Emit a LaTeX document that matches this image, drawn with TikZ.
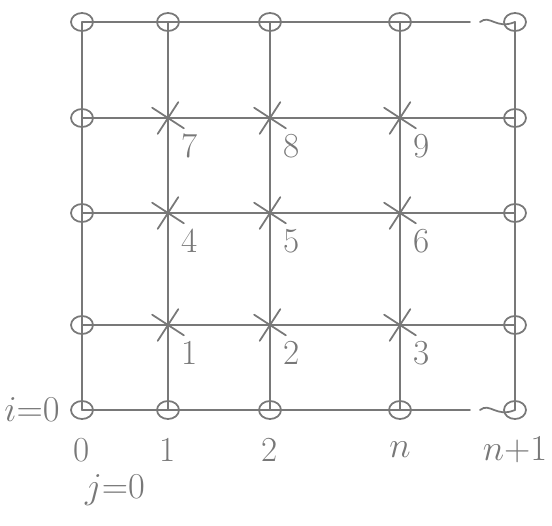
\documentclass[tikz,border=0pt]{standalone}
\usetikzlibrary{shapes.misc,shapes.geometric}
\definecolor{pencil}{RGB}{120,120,120}
\tikzset{
    lab/.style={
        font=\fontsize{20}{24}\selectfont, text=pencil
    },
    bnd/.style={
        ellipse, draw=pencil, line width=1.0pt, inner sep=0pt,
        minimum width=0.44cm, minimum height=0.36cm
    },
    inn/.style={
        cross out, draw=pencil, line width=1.0pt, inner sep=0pt,
        minimum size=0.5cm, rotate=12
    }
}
\begin{document}
\begin{tikzpicture}[x=0.02cm,y=-0.02cm,line cap=round,line join=round]

% --- canvas (1 unit = 1 px of the reference) ---
    \useasboundingbox (0,0) rectangle (552,526);

% grid points p-i-j (i = row from bottom, j = column)
    \foreach \j/\x in {0/82,1/168,2/270,3/400,4/515}
      \foreach \i/\y in {0/410,1/325,2/213,3/118,4/22}
        \coordinate (p-\i-\j) at (\x,\y);

% break points in top and bottom row (between n and n+1)
    \coordinate (g-0-a) at (470,410);
    \coordinate (g-0-b) at (480,410);
    \coordinate (g-4-a) at (470,22);
    \coordinate (g-4-b) at (480,22);

% grid lines
    \begin{scope}[draw=pencil, line width=1.0pt]
      \foreach \i in {1,2,3}
        \draw (p-\i-0.center) -- (p-\i-4.center);
      \foreach \j in {0,...,4}
        \draw (p-0-\j.center) -- (p-4-\j.center);
      \draw (p-0-0) -- (g-0-a);
      \draw (g-0-b) .. controls (490,402) and (496,418) .. (p-0-4);
      \draw (p-4-0) -- (g-4-a);
      \draw (g-4-b) .. controls (490,14) and (496,30) .. (p-4-4);
    \end{scope}

% boundary points (circles)
    \foreach \j in {0,...,4} {
        \node[bnd] (b-0-\j) at (p-0-\j) {};
        \node[bnd] (b-4-\j) at (p-4-\j) {};
    }
    \foreach \i in {1,2,3} {
        \node[bnd] (b-\i-0) at (p-\i-0) {};
        \node[bnd] (b-\i-4) at (p-\i-4) {};
    }

% interior points (crosses) and their numbers
    \foreach \i in {1,2,3}
      \foreach \j in {1,2,3} {
        \pgfmathtruncatemacro\k{(\i-1)*3+\j}
        \node[inn] (u-\i-\j) at (p-\i-\j) {};
        \node[lab] (n-\i-\j) at ([shift={(22,28)}]p-\i-\j) {\k};
      }

% column labels
    \foreach \j/\t in {0/0,1/1,2/2,3/$n$,4/$n{+}1$}
        \node[lab] (c-\j) at ([shift={(0,40)}]p-0-\j) {\t};

% index labels
    \node[lab] (ilab) at ([shift={(-50,0)}]p-0-0) {$i{=}0$};
    \node[lab] (jlab) at ([shift={(33,80)}]p-0-0) {$j{=}0$};

\end{tikzpicture}
\end{document}
